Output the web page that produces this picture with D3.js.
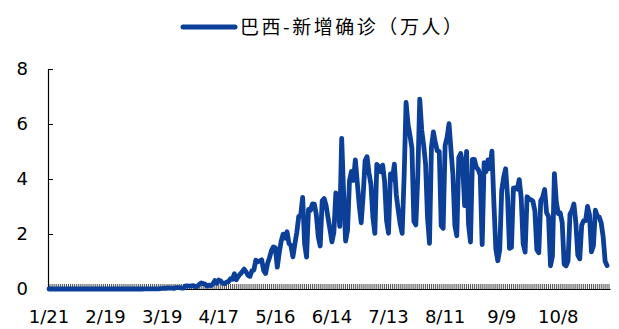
<!DOCTYPE html>
<html>
<head>
<meta charset="utf-8">
<script src="https://cdn.jsdelivr.net/npm/d3@7"></script>
<style>
  body { margin: 0; background: #fff; }
  svg { display: block; }
</style>
</head>
<body>
<svg id="chart" width="619" height="329"></svg>
<script>
// Brazil: daily new confirmed COVID-19 cases, 2020 (persons; plotted in units of 10,000)
const seriesName = "巴西-新增确诊（万人）";
const firstDay = new Date(2020, 0, 21);
const endDay = new Date(2020, 10, 4);   // exclusive: categories run 1/21 .. 11/3
const tickLabels = ["1/21", "2/19", "3/19", "4/17", "5/16", "6/14", "7/13", "8/11", "9/9", "10/8"];
const yTicks = [0, 2, 4, 6, 8];

const casesJan = [0, 0, 0, 0, 0, 0, 0, 0, 0, 0, 0];
const casesFeb = [0, 0, 0, 0, 0, 0, 0, 0, 0, 0, 0, 0, 0, 0, 0, 0, 0, 0, 0, 0, 0, 0, 0, 0, 0, 1, 0, 0, 1];
const casesMar = [0, 0, 0, 1, 5, 5, 6, 6, 0, 9, 18, 25, 21, 23, 79, 34, 57, 137, 193, 283, 224, 418, 345, 310, 232, 482, 502, 487, 352, 323, 1138];
const casesApr = [1119, 1074, 1146, 1222, 852, 926, 1661, 2210, 1930, 1781, 1089, 1442, 1261, 1832, 3058, 2105, 3257, 2917, 2055, 1927, 2498, 2678, 3735, 3503, 5514, 3379, 4613, 5385, 6276, 7218];
const casesMay = [6209, 4970, 4588, 6633, 6935, 10503, 9888, 10222, 10611, 6760, 5632, 9258, 11385, 13944, 15305, 14919, 7938, 13140, 17408, 19951, 18508, 20803, 16508, 15813, 11687, 16324, 20599, 26417, 26928, 33274, 16409];
const casesJun = [11598, 28936, 28633, 30925, 30830, 27075, 18912, 15654, 32091, 32913, 30412, 25982, 21704, 17110, 20647, 34918, 32188, 22765, 54771, 34666, 17459, 21432, 39436, 42725, 39483, 46907, 38693, 30476, 24052, 33846];
const casesJul = [46712, 48105, 42223, 37923, 26051, 20229, 45305, 44571, 42619, 45048, 39023, 24831, 20286, 41857, 39924, 45403, 34177, 28532, 23529, 20257, 41008, 67860, 59961, 55891, 51147, 24578, 23284, 40816, 69074, 57837, 52383];
const casesAug = [45392, 25800, 16641, 51603, 57152, 53139, 50230, 49970, 23010, 22048, 52160, 55155, 60091, 50644, 41576, 23101, 19373, 47784, 49298, 45323, 30355, 50032, 23421, 17078, 47134, 47161, 44235, 43412, 41350, 16158, 45961];
const casesSep = [42659, 46934, 43773, 50163, 31199, 14521, 10273, 14279, 35816, 40557, 43718, 33523, 14768, 15155, 36653, 36820, 36303, 39797, 33057, 16389, 13439, 33536, 32817, 32445, 31911, 28378, 14318, 13155, 32058, 33413];
const casesOct = [36157, 27750, 26310, 8456, 11946, 41906, 31553, 27444, 27651, 24200, 9045, 8426, 10220, 27235, 28523, 30914, 24062, 12345, 10982, 23227, 24818, 24858, 30026, 26979, 13493, 15726, 28629, 26500, 26106, 23976, 18947];
const casesNov = [10100, 8501];

const UNIT = 10000; // 万人

const days = d3.timeDay.range(firstDay, endDay);
const cases = [].concat(casesJan, casesFeb, casesMar, casesApr, casesMay, casesJun,
                        casesJul, casesAug, casesSep, casesOct, casesNov);
const series = cases.map((c, i) => ({ date: days[i], value: c / UNIT }));

const fmt = d3.timeFormat("%-m/%-d");
const svg = d3.select("#chart");
const margin = { left: 48, right: 9, top: 69, bottom: 40 };
const width = 619, height = 329;

const x = d3.scaleBand()
  .domain(days)
  .range([margin.left, width - margin.right])
  .paddingInner(0).paddingOuter(0);

const y = d3.scaleLinear()
  .domain([0, 8])
  .range([height - margin.bottom, margin.top]);

const axisFont = "'DejaVu Sans', Verdana, sans-serif";
const lineColor = "#0b3f98";

// x axis: a small tick for every day, labels every 29 days
const labelSet = new Set(tickLabels);
const xAxis = d3.axisBottom(x)
  .tickValues(days)
  .tickSizeInner(-5)
  .tickSizeOuter(0)
  .tickPadding(21)
  .tickFormat(d => labelSet.has(fmt(d)) ? fmt(d) : "");

const gx = svg.append("g")
  .attr("transform", `translate(0,${y(0)})`)
  .call(xAxis);
gx.select(".domain").attr("stroke", "#000").attr("stroke-width", 1.2);
gx.selectAll(".tick line").attr("stroke", "#222").attr("stroke-width", 0.8);
gx.selectAll(".tick text")
  .attr("fill", "#000")
  .style("font-family", axisFont)
  .style("font-size", "18px");

// y axis
const yAxis = d3.axisLeft(y)
  .tickValues(yTicks)
  .tickSizeInner(-5)
  .tickSizeOuter(0)
  .tickPadding(20)
  .tickFormat(d3.format("d"));

const gy = svg.append("g")
  .attr("transform", `translate(${margin.left},0)`)
  .call(yAxis);
gy.select(".domain").attr("stroke", "#000").attr("stroke-width", 1.2);
gy.selectAll(".tick line").attr("stroke", "#000");
gy.selectAll(".tick text")
  .attr("fill", "#000")
  .style("font-family", axisFont)
  .style("font-size", "18px");

// series line
const line = d3.line()
  .x(d => x(d.date) + x.bandwidth() / 2)
  .y(d => y(d.value));

svg.append("path")
  .datum(series)
  .attr("fill", "none")
  .attr("stroke", lineColor)
  .attr("stroke-width", 4.8)
  .attr("stroke-linejoin", "round")
  .attr("stroke-linecap", "round")
  .attr("d", line);

// legend
const legend = svg.append("g").attr("transform", "translate(183,27)");
legend.append("line")
  .attr("x1", 0).attr("x2", 52)
  .attr("y1", 0).attr("y2", 0)
  .attr("stroke", lineColor)
  .attr("stroke-width", 5)
  .attr("stroke-linecap", "round");
legend.append("text")
  .attr("x", 57)
  .attr("y", 0)
  .attr("dy", "0.36em")
  .attr("fill", "#000")
  .attr("textLength", 222)
  .attr("lengthAdjust", "spacing")
  .style("font-family", "'Noto Sans CJK SC', sans-serif")
  .style("font-size", "19px")
  .text(seriesName);
</script>
</body>
</html>
